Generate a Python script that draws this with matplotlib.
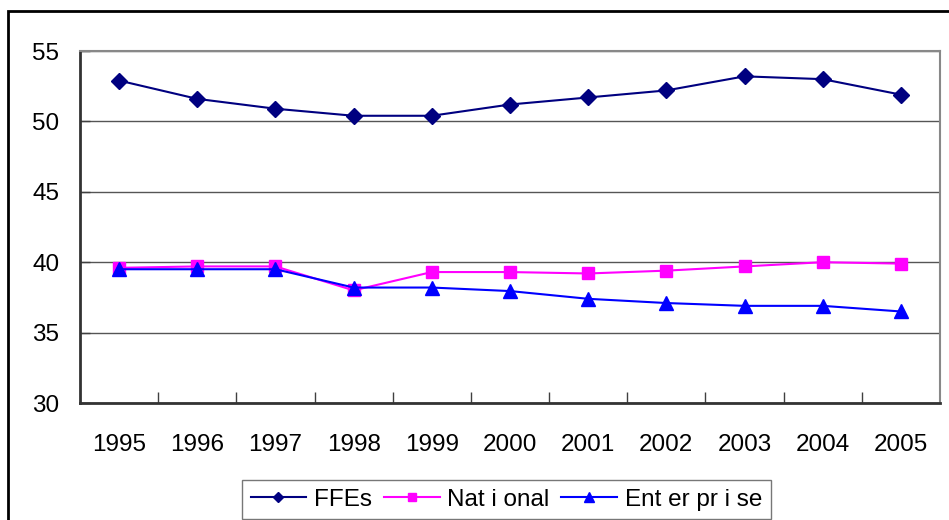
import matplotlib
matplotlib.use('Agg')
import matplotlib.pyplot as plt
from matplotlib.patches import Rectangle

plt.rcParams['font.family'] = ['Liberation Sans', 'DejaVu Sans']

years = ['1995', '1996', '1997', '1998', '1999', '2000', '2001', '2002', '2003', '2004', '2005']
ffes = [52.9, 51.6, 50.9, 50.4, 50.4, 51.2, 51.7, 52.2, 53.2, 53.0, 51.9]
national = [39.6, 39.7, 39.7, 38.0, 39.3, 39.3, 39.2, 39.4, 39.7, 40.0, 39.9]
enterprise = [39.5, 39.5, 39.5, 38.2, 38.2, 37.95, 37.4, 37.1, 36.9, 36.9, 36.5]
labels = ['FFEs', 'Nat i onal', 'Ent er pr i se']

fig = plt.figure(figsize=(9.49, 5.20), dpi=100)
ax = fig.add_axes([80/949, 1 - 403/520, 860/949, 352/520])

x = range(len(years))
l1, = ax.plot(x, ffes, color='#000080', lw=1.5, marker='D', ms=8)
l2, = ax.plot(x, national, color='#FF00FF', lw=1.5, marker='s', ms=8.5)
l3, = ax.plot(x, enterprise, color='#0000FF', lw=1.5, marker='^', ms=9.5)

ax.set_xlim(-0.5, len(years) - 0.5)
ax.set_ylim(30, 55)
ax.set_yticks([30, 35, 40, 45, 50, 55])
ax.set_xticks(list(x))
ax.set_xticklabels(years)
ax.set_xticks([i + 0.5 for i in range(len(years) - 1)], minor=True)
ax.tick_params(axis='x', which='major', length=0, pad=22, labelsize=17.5)
ax.tick_params(axis='x', which='minor', direction='in', length=8, width=1, color='#404040')
ax.tick_params(axis='y', direction='in', length=7, width=1, color='#404040', pad=15, labelsize=17.5)
ax.yaxis.grid(True, color='#555555', lw=1)
ax.set_axisbelow(True)

ax.spines['left'].set_color('#333333')
ax.spines['left'].set_linewidth(2)
ax.spines['bottom'].set_color('#333333')
ax.spines['bottom'].set_linewidth(2)
ax.spines['top'].set_color('#888888')
ax.spines['top'].set_linewidth(1.5)
ax.spines['right'].set_color('#888888')
ax.spines['right'].set_linewidth(1.5)

leg = fig.legend([l1, l2, l3], labels, loc='upper left', ncol=3,
                 bbox_to_anchor=(242/949, 1 - 480/520), borderaxespad=0,
                 fontsize=17.5, frameon=True, fancybox=False, handlelength=2.3,
                 handletextpad=0.3, columnspacing=0.5, borderpad=0.35,
                 markerscale=0.7)
leg.get_frame().set_edgecolor('#555555')
leg.get_frame().set_linewidth(1)

fig.patches.append(Rectangle((8/949, -0.1), 1.1, (520 - 11)/520 + 0.1, transform=fig.transFigure,
                             fill=False, edgecolor='black', lw=2))

fig.savefig('out.png', dpi=100)
